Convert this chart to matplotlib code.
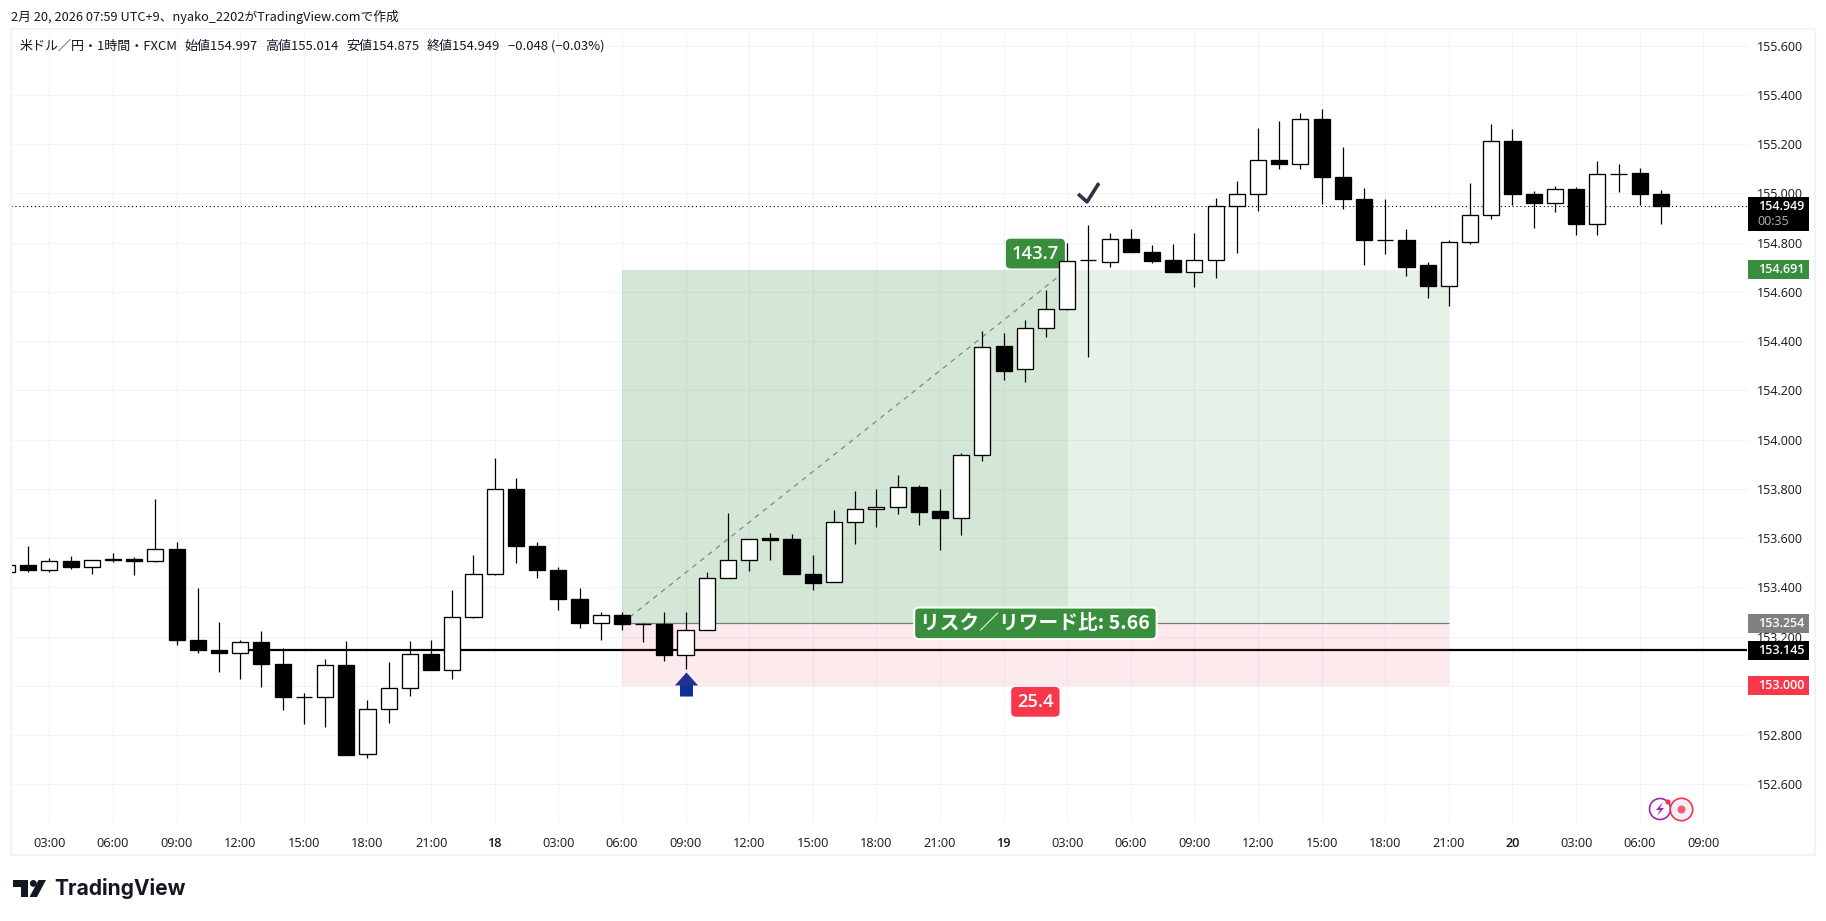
import matplotlib
matplotlib.use("Agg")
import matplotlib.pyplot as plt
import matplotlib.transforms as mtransforms
from matplotlib.patches import Rectangle, Circle, Polygon
from matplotlib.path import Path

# USD/JPY 1h candles, bar 0 is 03:00 on the 17th
opens = [153.463, 153.491, 153.471, 153.507, 153.483, 153.517, 153.517, 153.507, 153.557, 153.186,
         153.147, 153.133, 153.179, 153.090, 152.953, 152.954, 153.086, 152.723, 152.906, 152.991,
         153.131, 153.064, 153.280, 153.454, 153.801, 153.570, 153.472, 153.354, 153.255, 153.286,
         153.253, 153.250, 153.127, 153.225, 153.440, 153.513, 153.600, 153.595, 153.456, 153.420,
         153.667, 153.720, 153.728, 153.809, 153.709, 153.683, 153.939, 154.379, 154.287, 154.453,
         154.531, 154.728, 154.722, 154.817, 154.764, 154.728, 154.682, 154.731, 154.950, 154.997,
         155.135, 155.119, 155.303, 155.066, 154.978, 154.810, 154.809, 154.708, 154.624, 154.801,
         154.912, 155.212, 154.997, 154.960, 155.018, 154.876, 155.080, 155.082, 154.997]
highs = [153.491, 153.570, 153.521, 153.529, 153.511, 153.541, 153.525, 153.757, 153.586, 153.399,
         153.261, 153.188, 153.224, 153.155, 152.972, 153.110, 153.183, 152.944, 153.098, 153.183,
         153.188, 153.391, 153.533, 153.927, 153.846, 153.586, 153.484, 153.399, 153.301, 153.302,
         153.254, 153.302, 153.302, 153.462, 153.701, 153.598, 153.620, 153.616, 153.531, 153.713,
         153.790, 153.798, 153.855, 153.815, 153.798, 153.945, 154.443, 154.434, 154.488, 154.606,
         154.797, 154.870, 154.838, 154.854, 154.789, 154.793, 154.838, 154.982, 155.049, 155.266,
         155.295, 155.327, 155.343, 155.189, 155.023, 154.976, 154.854, 154.722, 154.813, 155.043,
         155.282, 155.261, 155.011, 155.031, 155.026, 155.132, 155.120, 155.103, 155.014]
lows = [153.463, 153.461, 153.461, 153.473, 153.453, 153.502, 153.449, 153.502, 153.165, 153.132,
        153.055, 153.026, 152.994, 152.900, 152.847, 152.831, 152.721, 152.705, 152.851, 152.957,
        153.063, 153.026, 153.274, 153.449, 153.498, 153.437, 153.307, 153.234, 153.185, 153.226,
        153.179, 153.102, 153.069, 153.225, 153.440, 153.467, 153.512, 153.455, 153.390, 153.420,
        153.577, 153.646, 153.698, 153.654, 153.552, 153.613, 153.913, 154.244, 154.234, 154.416,
        154.526, 154.335, 154.701, 154.762, 154.717, 154.680, 154.620, 154.656, 154.758, 154.928,
        155.101, 155.101, 154.958, 154.936, 154.709, 154.754, 154.664, 154.575, 154.542, 154.793,
        154.895, 154.954, 154.858, 154.923, 154.830, 154.830, 155.004, 154.954, 154.875]
closes = [153.491, 153.469, 153.507, 153.482, 153.511, 153.510, 153.506, 153.556, 153.185, 153.144,
          153.132, 153.178, 153.087, 152.953, 152.955, 153.085, 152.721, 152.906, 152.991, 153.129,
          153.063, 153.280, 153.454, 153.800, 153.567, 153.469, 153.351, 153.254, 153.288, 153.252,
          153.253, 153.126, 153.225, 153.440, 153.513, 153.598, 153.593, 153.455, 153.418, 153.667,
          153.720, 153.728, 153.809, 153.706, 153.682, 153.939, 154.377, 154.277, 154.454, 154.531,
          154.726, 154.728, 154.816, 154.762, 154.725, 154.680, 154.731, 154.950, 154.999, 155.135,
          155.118, 155.301, 155.065, 154.976, 154.810, 154.810, 154.703, 154.624, 154.804, 154.912,
          155.212, 154.996, 154.960, 155.018, 154.874, 155.078, 155.080, 154.996, 154.949]
first_bar = -2

price_ticks = [152.6, 152.8, 153.0, 153.2, 153.4, 153.6, 153.8, 154.0, 154.2, 154.4, 154.6, 154.8, 155.0, 155.2, 155.4, 155.6]
time_ticks = list(range(0, 79, 3))
time_labels = ["03:00", "06:00", "09:00", "12:00", "15:00", "18:00", "21:00", "18",
               "03:00", "06:00", "09:00", "12:00", "15:00", "18:00", "21:00", "19",
               "03:00", "06:00", "09:00", "12:00", "15:00", "18:00", "21:00", "20",
               "03:00", "06:00", "09:00"]

# long position tool
entry = 153.254
target = 154.691
stop = 153.000
pos_start = 27
pos_now = 48
pos_end = 66
reward_pips = "143.7"
risk_pips = "25.4"
rr_text = "リスク／リワード比: 5.66"

level = 153.145
level_start = 9
last_price = 154.949
arrow_bar = 30
arrow_price = 153.008
check_bar = 49
check_price = 155.004

JP = ["Noto Sans CJK JP", "DejaVu Sans"]
NUM = ["Open Sans", "DejaVu Sans"]
INK = "#131722"
GRID = "#f0f3fa"
GREEN = "#388e3c"
RED = "#f23645"

W, H = 1826, 921
fig = plt.figure(figsize=(W / 100, H / 100), dpi=100, facecolor="white")

# main pane, 1px = 0.72pt at this dpi
left, right, top, bottom = 11, 1747, 30, 823
ax = fig.add_axes([left / W, 1 - bottom / H, (right - left) / W, (bottom - top) / H])
ax.set_xlim(-1.811, 80.06)
ax.set_ylim(152.443, 155.664)
for s in ax.spines.values():
    s.set_visible(False)
ax.set_axisbelow(True)
ax.grid(True, color=GRID, lw=0.8)
ax.set_xticks(time_ticks)
ax.set_xticklabels(time_labels, fontfamily=NUM, fontsize=9.2, color=INK)
for lab in ax.get_xticklabels():
    if len(lab.get_text()) == 2:
        lab.set_fontweight("semibold")
ax.yaxis.tick_right()
ax.set_yticks(price_ticks)
ax.set_yticklabels([f"{p:.3f}" for p in price_ticks], fontfamily=NUM, fontsize=9, color=INK)
ax.tick_params(axis="both", length=0)
ax.tick_params(axis="x", pad=10)
ax.tick_params(axis="y", pad=7)

# horizontal level, last price and the entry arrow sit under the zones
ax.hlines(level, level_start, 80.06, color="black", lw=1.6, zorder=1)
ax.axhline(last_price, color="black", lw=0.8, ls=(0, (1, 2.5)), zorder=1)
arrow = Path([(0, 1), (0.96, -0.08), (0.54, -0.08), (0.54, -1), (-0.54, -1), (-0.54, -0.08), (-0.96, -0.08), (0, 1)], closed=True)
ax.plot([arrow_bar], [arrow_price], marker=arrow, ms=17.3, color="#0c2f9c", mew=0, zorder=1)

ax.add_patch(Rectangle((pos_start, entry), pos_end - pos_start, target - entry, fc=GREEN, alpha=0.12, lw=0, zorder=2))
ax.add_patch(Rectangle((pos_start, entry), pos_now - pos_start, target - entry, fc=GREEN, alpha=0.1, lw=0, zorder=2))
ax.add_patch(Rectangle((pos_start, stop), pos_end - pos_start, entry - stop, fc=RED, alpha=0.1, lw=0, zorder=2))
ax.hlines(entry, pos_start, pos_end, color="#787b86", lw=0.9, zorder=2.2)
ax.plot([pos_start, pos_now], [entry, target], color="#787b86", lw=0.8, ls=(0, (4.5, 4.5)), zorder=2.4)

# candles
bars = list(range(first_bar, first_bar + len(opens)))
ax.vlines(bars, lows, highs, color="black", lw=0.9, zorder=3)
for b, o, c in zip(bars, opens, closes):
    ax.bar(b, abs(c - o), bottom=min(o, c), width=0.76, fc="white" if c >= o else "black", ec="black", lw=0.95, zorder=4)

# position labels
def badge(text, price, dy, size, family, color, edge="none"):
    ax.annotate(text, xy=((pos_start + pos_end) / 2, price), xytext=(0, dy), textcoords="offset points",
                ha="center", va="center", fontsize=size, fontfamily=family, fontweight="semibold", color="white",
                zorder=2.7 if edge == "none" else 5,
                bbox=dict(boxstyle="round,pad=0.32,rounding_size=0.25", fc=color, ec=edge, lw=1.5))

badge(reward_pips, target, 11.5, 13.2, NUM, GREEN)
badge(rr_text, entry, 0, 14.2, JP, GREEN, edge="white")
badge(risk_pips, stop, -11.5, 13.2, NUM, "#f7374a")

check = Path([(-1, -0.14), (-0.14, -0.9), (1, 0.9)], [Path.MOVETO, Path.LINETO, Path.LINETO])
ax.plot([check_bar], [check_price], marker=check, ms=15, mfc="none", mec="#2f3344", mew=2.6, zorder=5)

# everything outside the pane, in pixel coordinates
top_ax = fig.add_axes([0, 0, 1, 1], zorder=3)
top_ax.set_xlim(0, W)
top_ax.set_ylim(H, 0)
top_ax.axis("off")
top_ax.add_patch(Rectangle((10.5, 29.5), 1804.5, 825.5, fc="none", ec=GRID, lw=1.5))

top_ax.text(11, 16.5, "2月 20, 2026 07:59 UTC+9、nyako_2202がTradingView.comで作成", fontfamily=JP, fontsize=9.2, color=INK, va="center")
header = [(20, "米ドル／円・1時間・FXCM"), (184, "始値154.997"), (265.5, "高値155.014"), (346, "安値154.875"), (427, "終値154.949"), (508, "−0.048 (−0.03%)")]
for hx, txt in header:
    top_ax.text(hx, 46.5, txt, fontfamily=JP, fontsize=9.4, color=INK, va="center")

# price tags on the scale, y follows the price scale
tag_tf = mtransforms.blended_transform_factory(top_ax.transData, ax.transData)
px = (155.664 - 152.443) / (bottom - top)

def tag(price, text, color):
    top_ax.add_patch(Rectangle((1748, price - 9.5 * px), 61, 19 * px, fc=color, lw=0, transform=tag_tf))
    top_ax.text(1781, price, text, transform=tag_tf, ha="center", va="center", fontfamily=NUM, fontsize=9, fontweight="semibold", color="white")

tag(entry, f"{entry:.3f}", "#808080")
tag(level, f"{level:.3f}", "black")
tag(stop, f"{stop:.3f}", "#f7374a")
tag(target, f"{target:.3f}", GREEN)
top_ax.add_patch(Rectangle((1748, 197), 61, 34, fc="black", lw=0))
top_ax.text(1781, 206.5, f"{last_price:.3f}", ha="center", va="center", fontfamily=NUM, fontsize=9, fontweight="semibold", color="white")
top_ax.text(1773.5, 221, "00:35", ha="center", va="center", fontfamily=NUM, fontsize=9, color="#b2b5be")

# status icons, bottom right
top_ax.add_patch(Circle((1660, 809), 10.5, fc="white", ec="#9c27b0", lw=1.2))
top_ax.add_patch(Polygon([(1663, 802), (1656, 810), (1660, 810), (1657, 816), (1664, 808), (1660, 808)], fc="#9c27b0", lw=0))
top_ax.add_patch(Circle((1668, 802), 2.6, fc=RED, lw=0))
top_ax.add_patch(Circle((1681.5, 809.5), 11.2, fc="#eef0fa", ec=RED, lw=1.2))
top_ax.add_patch(Circle((1681.5, 809.5), 4, fc="#ff5a6a", lw=0))

# TradingView mark and wordmark
LOGO = "#131722"
top_ax.add_patch(Polygon([(13, 880), (28.3, 880), (28.3, 897), (20.8, 897), (20.8, 886.5), (13, 886.5)], fc=LOGO, lw=0))
top_ax.add_patch(Circle((33.3, 883.4), 3.4, fc=LOGO, lw=0))
top_ax.add_patch(Polygon([(38.5, 880), (46, 880), (37, 897), (29.5, 897)], fc=LOGO, lw=0))
top_ax.text(54.5, 888, "TradingView", fontfamily=["Inter", "DejaVu Sans"], fontweight="bold", fontsize=15.1, color=LOGO, va="center")

fig.savefig("out.png", dpi=100, facecolor="white")
